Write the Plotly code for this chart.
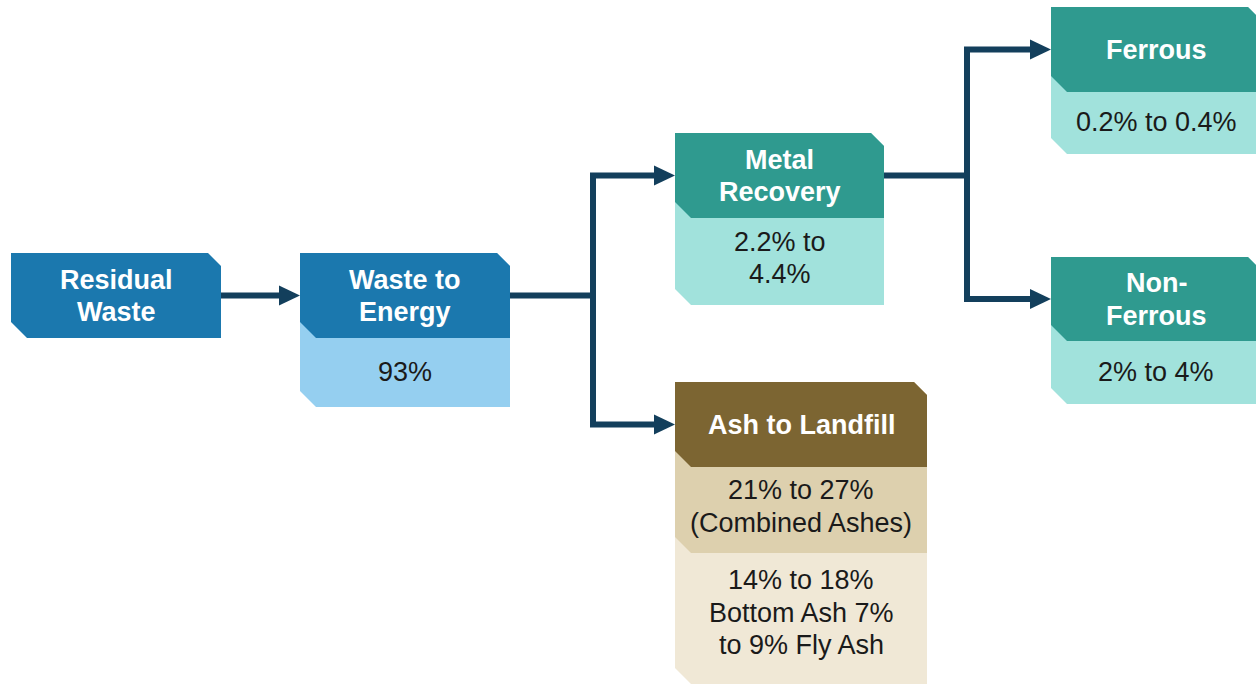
import plotly.graph_objects as go

# ---- content ----
node_titles = ["Residual<br>Waste", "Waste to<br>Energy", "Metal<br>Recovery",
               "Ash to Landfill", "Ferrous", "Non-<br>Ferrous"]
node_values = [[], ["93%"], ["2.2% to<br>4.4%"],
               ["21% to 27%<br>(Combined Ashes)", "14% to 18%<br>Bottom Ash 7%<br>to 9% Fly Ash"],
               ["0.2% to 0.4%"], ["2% to 4%"]]
links = [(0, 1), (1, 2), (1, 3), (2, 4), (2, 5)]

# ---- layout geometry (pixels, y downward) ----
# x0, x1, header top, header bottom, then bottoms of each value section
geom = [
    (11, 221, 253, 338, []),
    (300, 510, 253, 338, [407]),
    (675, 884, 133, 218, [305]),
    (675, 927, 382, 467, [553, 684]),
    (1051, 1261, 7, 92, [154]),
    (1051, 1261, 257, 341, [404]),
]
head_colors = ["#1B78AE", "#1B78AE", "#2F9A8F", "#7C6532", "#2F9A8F", "#2F9A8F"]
body_colors = [[], ["#95CFF0"], ["#A1E2DC"], ["#DDD0AE", "#F0E8D6"], ["#A1E2DC"], ["#A1E2DC"]]
ARROW = "#133F5C"
TR = 13   # top-right cut
BL = 16   # bottom-left cut
FONT = "Liberation Sans, Arial, sans-serif"
FS = 27
LINE = 32.5  # line spacing in px

shapes = []
annotations = []


def poly(x0, x1, y0, y1, color):
    p = (f"M {x0} {y0} L {x1-TR} {y0} L {x1} {y0+TR} L {x1} {y1} "
         f"L {x0+BL} {y1} L {x0} {y1-BL} Z")
    return dict(type="path", path=p, fillcolor=color, line=dict(width=0),
                xref="x", yref="y", layer="above")


def add_text(cx, cy, text, color, bold):
    lines = text.split("<br>")
    n = len(lines)
    for k, ln in enumerate(lines):
        y = cy + (k - (n - 1) / 2) * LINE
        annotations.append(dict(x=cx, y=y, text=("<b>%s</b>" % ln) if bold else ln,
                                showarrow=False, xref="x", yref="y",
                                xanchor="center", yanchor="middle",
                                font=dict(family=FONT, size=FS, color=color)))


for i, (x0, x1, ht, hb, bottoms) in enumerate(geom):
    tops = [hb] + bottoms[:-1]
    for j in range(len(bottoms) - 1, -1, -1):
        shapes.append(poly(x0, x1, ht, bottoms[j], body_colors[i][j]))
    shapes.append(poly(x0, x1, ht, hb, head_colors[i]))
    cx = (x0 + x1) / 2
    add_text(cx, (ht + hb) / 2 + 0.5, node_titles[i], "white", True)
    for j, b in enumerate(bottoms):
        t = tops[j]
        txt = node_values[i][j]
        n = len(txt.split("<br>"))
        add_text(cx, (t + b) / 2 - 1 - 2.5 * (n - 1), txt, "#1A1A1A", False)

# connectors
HL = 21   # arrowhead length
HW = 10   # arrowhead half height
LW = 6
BEND = 83  # distance from source edge to the vertical branch line


def mid_y(i):
    x0, x1, ht, hb, b = geom[i]
    return (ht + hb) / 2


sources = sorted(set(s for s, _ in links))
for s in sources:
    targets = [t for ss, t in links if ss == s]
    sx = geom[s][1]
    sy = mid_y(s)
    tx = geom[targets[0]][0]
    if len(targets) == 1:
        ty = mid_y(targets[0])
        shapes.append(dict(type="line", x0=sx, x1=tx - HL + 1, y0=sy, y1=ty,
                           line=dict(color=ARROW, width=LW), layer="above"))
    else:
        bx = sx + BEND
        shapes.append(dict(type="line", x0=sx, x1=bx, y0=sy, y1=sy,
                           line=dict(color=ARROW, width=LW), layer="above"))
        ys = [mid_y(t) for t in targets]
        path = f"M {tx-HL+1} {min(ys)} L {bx} {min(ys)} L {bx} {max(ys)} L {tx-HL+1} {max(ys)}"
        shapes.append(dict(type="path", path=path, line=dict(color=ARROW, width=LW),
                           layer="above"))
    for t in targets:
        ty = mid_y(t)
        shapes.append(dict(type="path",
                           path=f"M {tx-HL} {ty-HW} L {tx} {ty} L {tx-HL} {ty+HW} Z",
                           fillcolor=ARROW, line=dict(width=0), layer="above"))

fig = go.Figure()
fig.update_layout(
    width=1256, height=685,
    margin=dict(l=0, r=0, t=0, b=0),
    paper_bgcolor="white", plot_bgcolor="white",
    xaxis=dict(range=[0, 1256], visible=False, fixedrange=True),
    yaxis=dict(range=[685, 0], visible=False, fixedrange=True),
    shapes=shapes, annotations=annotations, showlegend=False,
)
fig.write_html("out.html", config={"displayModeBar": False},
               post_script="document.body.style.margin='0';document.body.style.overflow='hidden';")
